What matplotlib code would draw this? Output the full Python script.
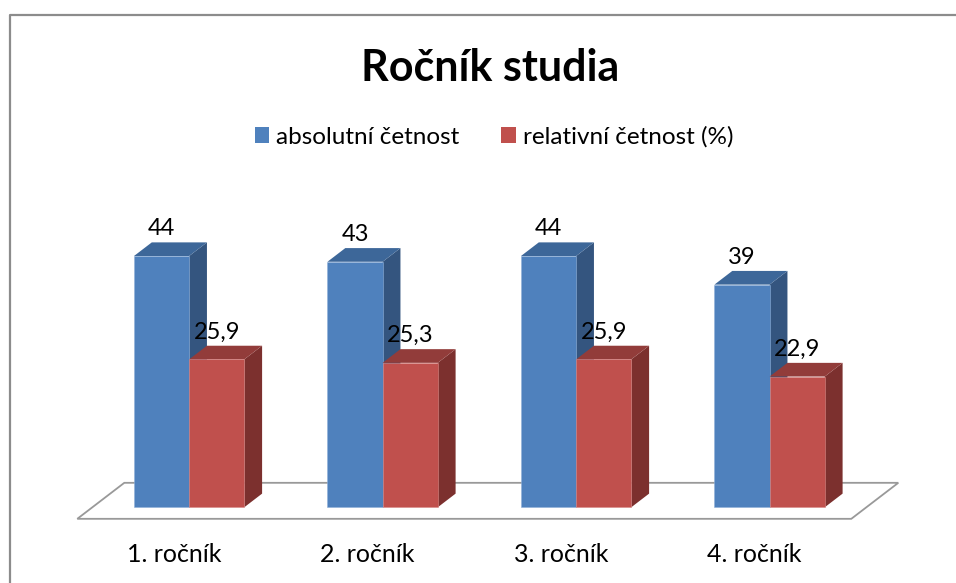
import matplotlib.pyplot as plt
from matplotlib.patches import Polygon, Patch, Rectangle
from matplotlib.lines import Line2D

# data
categories = ['1. ročník', '2. ročník', '3. ročník', '4. ročník']
absolute = [44, 43, 44, 39]
relative = [25.9, 25.3, 25.9, 22.9]
series_names = ['absolutní četnost', 'relativní četnost (%)']
title = 'Ročník studia'

plt.rcParams['font.family'] = ['Lato', 'DejaVu Sans']

W, H, DPI = 956, 583, 100
PX_X = 193.5      # pixels per category
PX_Y = 5.71       # pixels per value unit
X0 = 77.3         # floor front-left corner, px from left
BASE = 507.3      # bar base, px from top
FLOOR_DX, FLOOR_DY = 47.0, 36.0   # floor depth in px
F_FRONT, F_BACK = 0.32, 0.70      # bar depth position as fraction of floor
BAR_W = 0.285

colors = {
    'blue': ('#4F81BD', '#3D6799', '#34557F'),
    'red': ('#C0504D', '#923C3A', '#7C302E'),
}
edge_light = {'blue': '#8fb0d8', 'red': '#d98a88'}

fig = plt.figure(figsize=(W / DPI, H / DPI), dpi=DPI)
ax = fig.add_axes([0, 0, 1, 1])
ax.set_xlim(-X0 / PX_X, (W - X0) / PX_X)
ax.set_ylim(-(H - BASE) / PX_Y, BASE / PX_Y)
ax.axis('off')


# depth vectors in data units
def depth(f):
    return f * FLOOR_DX / PX_X, f * FLOOR_DY / PX_Y


fx, fy = depth(F_FRONT)
bdx, bdy = depth(F_BACK - F_FRONT)
n = len(categories)

# chart border (only top and left edges are inside the picture)
bx, by = 9.5 / W, 1 - 14.5 / H
fig.lines.append(Line2D([bx, bx, 1.0], [0.0, by, by], transform=fig.transFigure,
                        color='#8c8c8c', linewidth=1.6))

# floor
ffx, ffy = depth(1.0)
y_front = -fy
floor = Polygon([(0, y_front), (n, y_front), (n + ffx, y_front + ffy), (ffx, y_front + ffy)],
                closed=True, facecolor='white', edgecolor='#999999', linewidth=1.3, zorder=1)
ax.add_patch(floor)


def bar3d(x_left, h, key):
    front, top, side = colors[key]
    x_right = x_left + BAR_W
    ax.add_patch(Polygon([(x_right, 0), (x_right + bdx, bdy), (x_right + bdx, h + bdy), (x_right, h)],
                         closed=True, facecolor=side, edgecolor='none', zorder=2))
    ax.add_patch(Polygon([(x_left, h), (x_right, h), (x_right + bdx, h + bdy), (x_left + bdx, h + bdy)],
                         closed=True, facecolor=top, edgecolor='none', zorder=2))
    ax.add_patch(Rectangle((x_left, 0), BAR_W, h, facecolor=front,
                           edgecolor=edge_light[key], linewidth=0.4, zorder=2))
    ax.annotate(f'{h:g}'.replace('.', ','), (x_left + BAR_W / 2, h + bdy),
                xytext=(0, 3), textcoords='offset pixels', ha='center', va='bottom',
                fontsize=17, zorder=3)


for i in range(n):
    c = i + 0.5 + fx
    bar3d(c - BAR_W, absolute[i], 'blue')
    bar3d(c, relative[i], 'red')
    ax.annotate(categories[i], (i + 0.5, y_front), xytext=(0, -36),
                textcoords='offset pixels', ha='center', va='center', fontsize=18)

fig.text(0.513, 1 - 68 / H, title, ha='center', va='center', fontsize=31, fontweight='bold')

handles = [Patch(facecolor=colors['blue'][0]), Patch(facecolor=colors['red'][0])]
fig.legend(handles, series_names, loc='center', bbox_to_anchor=(494 / W, 1 - 137 / H),
           ncol=2, frameon=False, fontsize=17.5, handlelength=0.6, handleheight=0.6,
           handletextpad=0.3, columnspacing=1.7)

fig.savefig('out.png', dpi=DPI)
